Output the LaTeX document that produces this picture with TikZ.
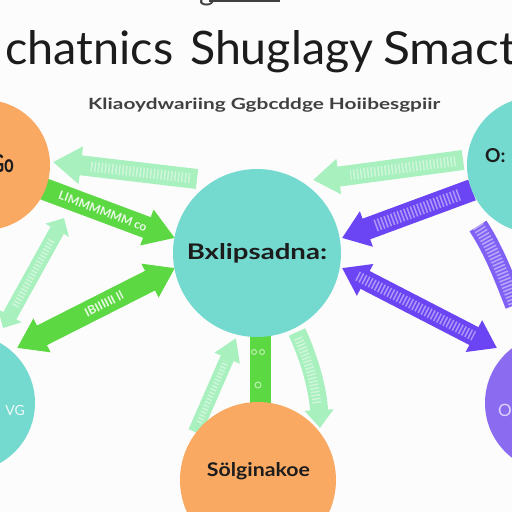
\documentclass[tikz,border=0pt]{standalone}
\usepackage{fontspec}
\usepackage{graphicx}
\setmainfont{Lato}
\usetikzlibrary{arrows.meta,calc}
\definecolor{bgc}{HTML}{FCFCFC}
\definecolor{tealc}{HTML}{74D9CF}
\definecolor{orangec}{HTML}{F9A962}
\definecolor{purpc}{HTML}{8B6CF0}
\definecolor{purpa}{HTML}{6B45F3}
\definecolor{greenb}{HTML}{5CD842}
\definecolor{greenl}{HTML}{A8F0BE}
\definecolor{inkc}{HTML}{1C1C1C}
\definecolor{subc}{HTML}{404040}
\begin{document}
\begin{tikzpicture}[x=1pt,y=-1pt,
  circ/.style={circle,inner sep=0pt,draw=none},
  lbl/.style={inner sep=0pt,text=inkc},
  ttl/.style={inner sep=0pt,anchor=base west,text=inkc,font=\fontsize{46}{46}\selectfont},
  lgarrow/.style={draw=greenl,line width=#1},
  bgarrow/.style={draw=greenb,line width=#1},
  parrow/.style={draw=purpa,line width=#1},
  speck/.style={draw=white,opacity=0.45,line width=#1,dash pattern=on 1.5pt off 2pt},
  intext/.style={sloped,inner sep=0pt,font=\bfseries\fontsize{12}{12}\selectfont}
]
\useasboundingbox (0,0) rectangle (512,512);
\clip (0,0) rectangle (512,512);
\fill[bgc] (0,0) rectangle (512,512);

% remnant of text above the frame
\fill[subc] (209,0) rectangle (280,2.2);
\node[inner sep=0pt,anchor=base west,text=subc,font=\fontsize{30}{30}\selectfont] (top) at (199,0.5) {g};

% title and subtitle
\node[ttl] (t1) at (5,64) {\resizebox{168pt}{34pt}{chatnics}};
\node[ttl] (t2) at (190,64) {\resizebox{183pt}{34pt}{Shuglagy}};
\node[ttl] (t3) at (383,64) {\resizebox{134pt}{33pt}{Smact}};
\node[inner sep=0pt,anchor=base west,text=subc] (sub) at (88,109)
  {\resizebox{352pt}{11.5pt}{\bfseries Kliaoydwariing Ggbcddge Hoiibesgpiir}};

% arrow end points
\coordinate (a1s) at (197,179); \coordinate (a1e) at (53,162);
\coordinate (a2s) at (44,189);  \coordinate (a2e) at (175,238);
\coordinate (a3s) at (3,328);   \coordinate (a3e) at (64,218);
\coordinate (a4s) at (175,268); \coordinate (a4e) at (17,348);
\coordinate (a5s) at (260.5,330); \coordinate (a5e) at (260.5,408);
\coordinate (a6s) at (195,432); \coordinate (a6e) at (236,338);
\coordinate (a7s) at (297,332); \coordinate (a7e) at (320,428);
\coordinate (a8s) at (463,160); \coordinate (a8e) at (313,180);
\coordinate (a9s) at (472,190); \coordinate (a9e) at (342,238);
\coordinate (a10s) at (478,226); \coordinate (a10e) at (515,305);
\coordinate (a11s) at (342,268); \coordinate (a11e) at (497,348);

% light green arrows
\draw[lgarrow=20pt,-{Triangle[width=36pt,length=28pt]}] (a1s) -- (a1e);
\draw[speck=10pt] ($(a1s)!0.05!(a1e)$) -- ($(a1s)!0.75!(a1e)$);
\draw[lgarrow=15pt,{Triangle[width=26pt,length=14pt]}-{Triangle[width=26pt,length=14pt]}] (a3s) -- (a3e);
\draw[speck=7pt] ($(a3s)!0.2!(a3e)$) -- ($(a3s)!0.8!(a3e)$);
\draw[lgarrow=14pt,-{Triangle[width=26pt,length=22pt]}] (a6s) -- (a6e);
\draw[speck=6pt] ($(a6s)!0.1!(a6e)$) -- ($(a6s)!0.75!(a6e)$);
\draw[lgarrow=18pt,-{Triangle[width=28pt,length=18pt]}] (a7s) .. controls (310,360) and (318,390) .. (a7e);
\draw[speck=9pt] (298,338) .. controls (309,362) and (315,385) .. (317,405);
\draw[lgarrow=20pt,-{Triangle[width=34pt,length=26pt]}] (a8s) -- (a8e);
\draw[speck=10pt] ($(a8s)!0.05!(a8e)$) -- ($(a8s)!0.75!(a8e)$);

% bright green arrows
\draw[bgarrow=22pt,-{Triangle[width=36pt,length=30pt]}] (a2s) -- (a2e)
  node[intext,pos=0.45,text=white!88!greenb] {LIMMMMMM co};
\draw[bgarrow=22pt,{Triangle[width=36pt,length=28pt]}-{Triangle[width=36pt,length=28pt]}] (a4s) -- (a4e)
  node[intext,pos=0.45,text=white!88!greenb] {IBIIIIII ll};
\draw[bgarrow=21pt] (a5s) -- (a5e);
\draw[white,opacity=0.6,line width=1pt] (254,352) circle (2.5pt) (262,352) circle (2.5pt) (258,385) circle (3pt);

% purple arrows
\draw[parrow=22pt,-{Triangle[width=36pt,length=26pt]}] (a9s) -- (a9e);
\draw[speck=12pt] ($(a9s)!0.1!(a9e)$) -- ($(a9s)!0.75!(a9e)$);
\draw[draw=purpa!85!white,line width=20pt] (a10s) .. controls (495,252) and (505,280) .. (a10e);
\draw[speck=12pt] (a10s) .. controls (495,252) and (505,280) .. (a10e);
\draw[parrow=20pt,{Triangle[width=34pt,length=26pt]}-{Triangle[width=34pt,length=26pt]}] (a11s) -- (a11e);
\draw[speck=10pt] ($(a11s)!0.1!(a11e)$) -- ($(a11s)!0.85!(a11e)$);

% circles
\node[circ,fill=tealc,minimum size=168pt] (c) at (257,253) {};
\node[circ,fill=orangec,minimum size=130pt] (tl) at (-15,165) {};
\node[circ,fill=tealc,minimum size=136pt] (tr) at (535,165) {};
\node[circ,fill=tealc,minimum size=138pt] (bl) at (-34,403) {};
\node[circ,fill=orangec,minimum size=156pt] (b) at (258,480) {};
\node[circ,fill=purpc,minimum size=138pt] (br) at (554,403) {};

% circle labels
\node[lbl,anchor=base] (cl) at (257,259) {\resizebox{140pt}{16pt}{\bfseries Bxlipsadna:}};
\node[lbl,anchor=base] (bll) at (258.5,476) {\resizebox{103pt}{14pt}{\bfseries Sölginakoe}};
\node[lbl,anchor=base east] (tll) at (14,172) {\resizebox{22pt}{18pt}{\bfseries Go}};
\node[lbl,anchor=base west] (trl) at (485,162) {\resizebox{!}{14pt}{\bfseries O:}};
\node[lbl,anchor=base east,text=white!88!tealc] (bll2) at (25,415) {\fontsize{14}{14}\selectfont VG};
\node[lbl,text=white!70!purpc] (brl) at (505,410) {\fontsize{17}{17}\selectfont O};
\end{tikzpicture}
\end{document}
